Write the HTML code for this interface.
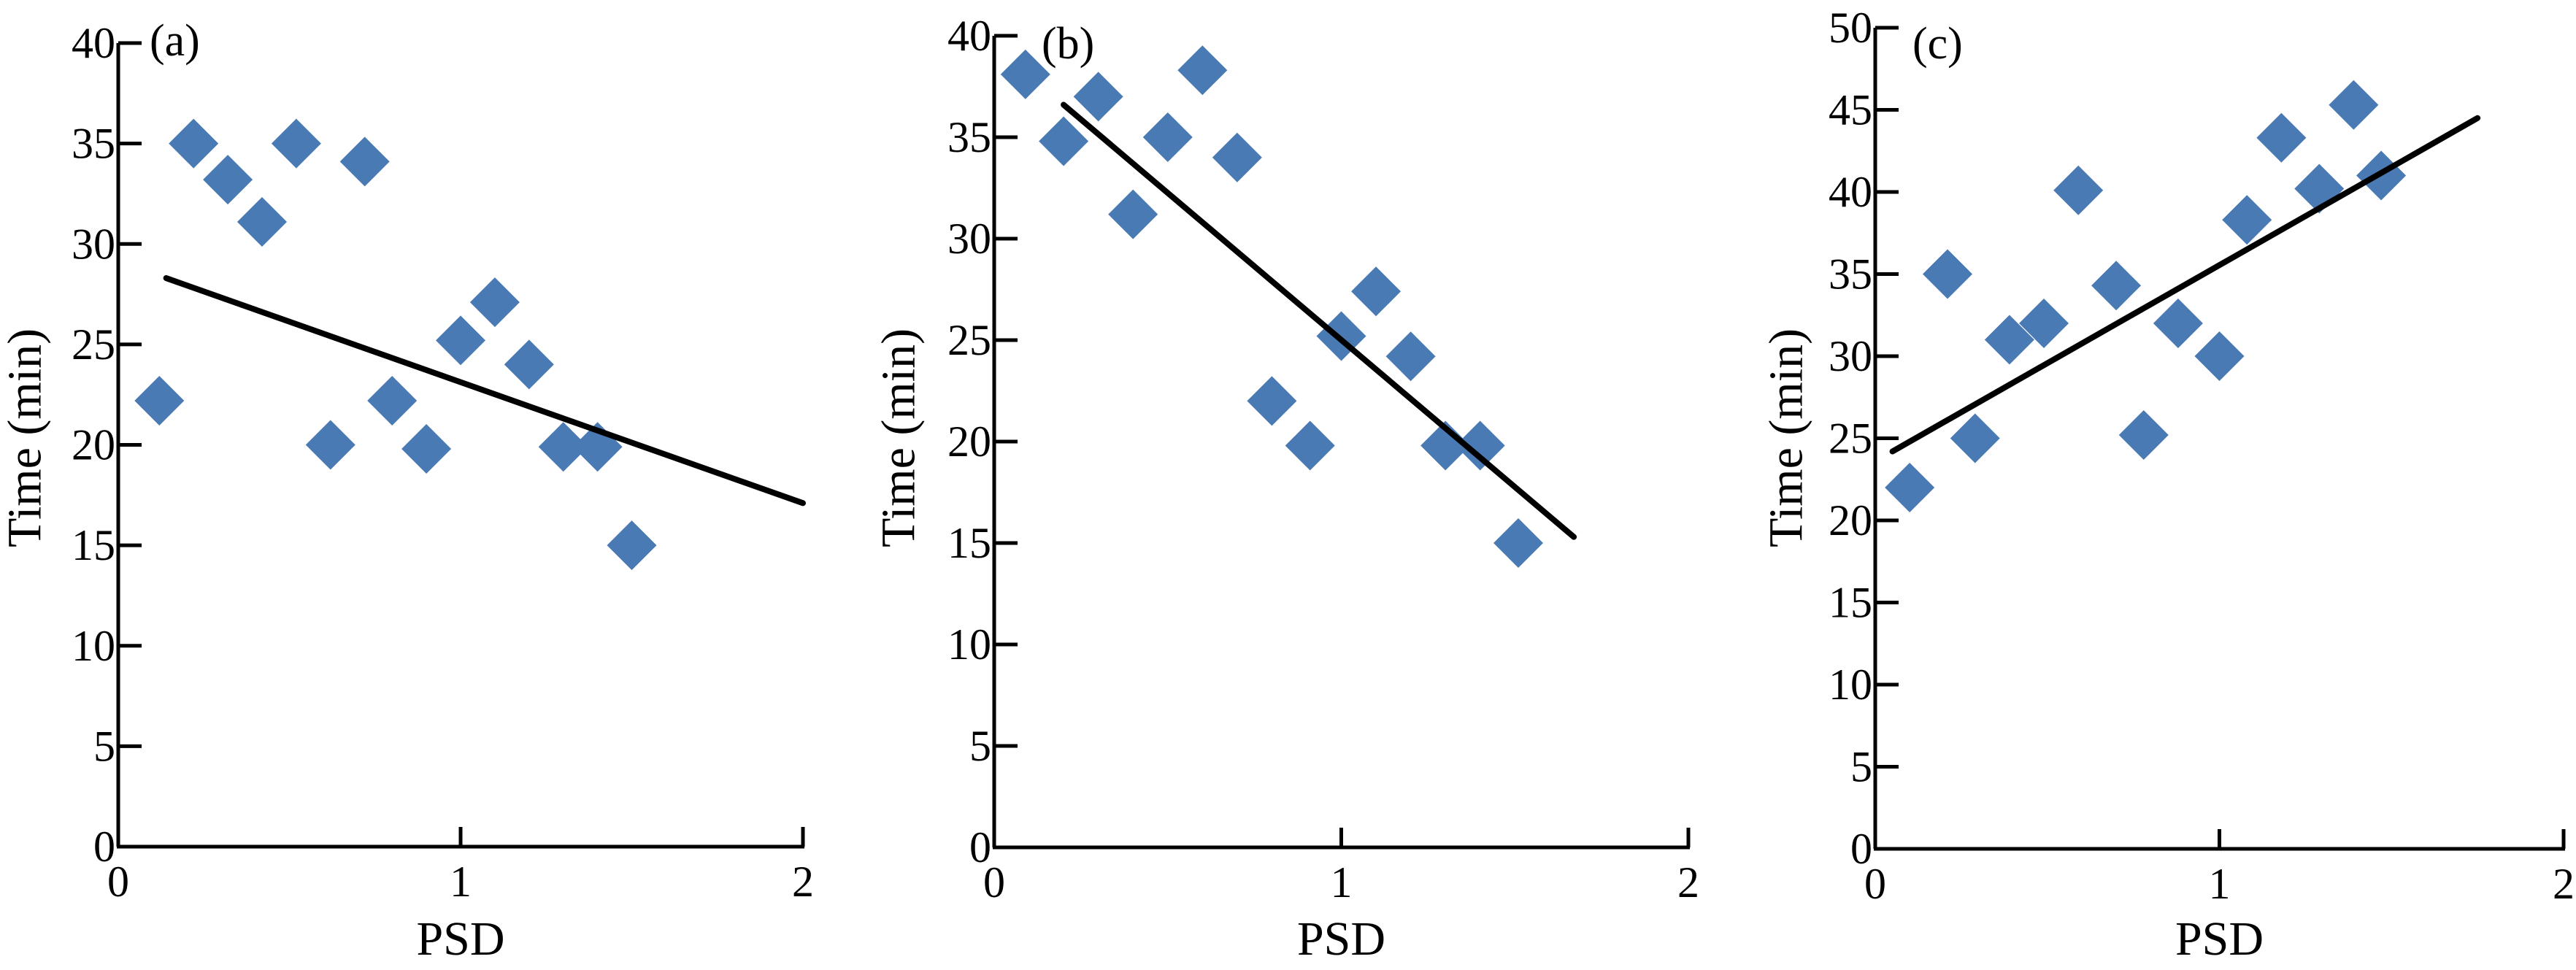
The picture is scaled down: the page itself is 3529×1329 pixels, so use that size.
<!DOCTYPE html>
<html><head><meta charset="utf-8"><style>
html,body{margin:0;padding:0;background:#fff;}
svg{display:block;}
text{font-family:"Liberation Serif","Times New Roman",serif;fill:#000;}
</style></head><body>
<svg id="fig" width="3529" height="1329" viewBox="0 0 3529 1329" xmlns="http://www.w3.org/2000/svg"></svg>
<script>
// Panel (a)
const psdA = [0.12,0.22,0.32,0.42,0.52,0.62,0.72,0.80,0.90,1.00,1.10,1.20,1.30,1.40,1.50];
const timeA = [22.2,35.0,33.2,31.1,35.0,20.0,34.1,22.2,19.8,25.2,27.1,24.0,19.9,19.9,15.0];
const fitA = [[0.14,28.3],[2.0,17.1]];
// Panel (b)
const psdB = [0.09,0.20,0.30,0.40,0.50,0.60,0.70,0.80,0.91,1.00,1.10,1.20,1.30,1.40,1.51];
const timeB = [38.1,34.8,37.0,31.2,35.0,38.3,34.0,22.0,19.8,25.2,27.4,24.2,19.8,19.8,15.0];
const fitB = [[0.20,36.6],[1.67,15.3]];
// Panel (c)
const psdC = [0.10,0.21,0.29,0.39,0.49,0.59,0.70,0.78,0.88,1.00,1.08,1.18,1.29,1.39,1.47];
const timeC = [22.0,35.0,25.0,31.0,32.0,40.1,34.3,25.2,32.0,30.0,38.3,43.3,40.2,45.3,41.0];
const fitC = [[0.05,24.2],[1.75,44.5]];
const xTicks = [0,1,2];
const yTicksAB = [0,5,10,15,20,25,30,35,40];
const yTicksC = [0,5,10,15,20,25,30,35,40,45,50];

const NS = "http://www.w3.org/2000/svg";
const svg = document.getElementById('fig');
function mk(tag, attrs, parent){
  const e = document.createElementNS(NS, tag);
  for (const k in attrs) e.setAttribute(k, attrs[k]);
  parent.appendChild(e);
  return e;
}
const panels = [
  {id:'a', xs:psdA, ys:timeA, fit:fitA, yt:yTicksAB, ymax:40, x0:162, x2:1100, y0:1160, ytop:59, lab:'(a)', labX:205, labY:76, titleX:34},
  {id:'b', xs:psdB, ys:timeB, fit:fitB, yt:yTicksAB, ymax:40, x0:1362, x2:2313, y0:1161, ytop:49, lab:'(b)', labX:1427, labY:80, titleX:1231},
  {id:'c', xs:psdC, ys:timeC, fit:fitC, yt:yTicksC, ymax:50, x0:2569, x2:3512, y0:1163, ytop:38, lab:'(c)', labX:2620, labY:80, titleX:2447}
];
panels.forEach(p => {
  const g = mk('g', {}, svg);
  
  
  const sx = v => p.x0 + (p.x2 - p.x0) * v / 2;
  const sy = v => p.y0 - (p.y0 - p.ytop) * v / p.ymax;
  // axes
  const ya = mk('line', {x1:p.x0, y1:p.ytop, x2:p.x0, y2:p.y0, stroke:'#000','stroke-width':5}, g);
  
  
  const xa = mk('line', {x1:p.x0-2, y1:p.y0, x2:p.x2+2, y2:p.y0, stroke:'#000','stroke-width':5}, g);
  
  
  p.yt.forEach(t => {
    const y = sy(t);
    const tk = mk('line', {x1:p.x0, y1:y, x2:p.x0+32, y2:y, stroke:'#000','stroke-width':5}, g);
    
    
    const tl = mk('text', {x:p.x0-4, y:y+20, 'font-size':60, 'text-anchor':'end'}, g);
    tl.textContent = t;
    
    
  });
  xTicks.forEach(t => {
    const x = sx(t);
    if (t > 0) {
      const tk = mk('line', {x1:x, y1:p.y0, x2:x, y2:p.y0-27, stroke:'#000','stroke-width':5}, g);
      
      
    }
    const tl = mk('text', {x:x, y:p.y0+68, 'font-size':60, 'text-anchor':'middle'}, g);
    tl.textContent = t;
    
    
  });
  // points
  p.xs.forEach((v, i) => {
    const cx = sx(v), cy = sy(p.ys[i]), r = 34;
    const d = mk('polygon', {points:`${cx},${cy-r} ${cx+r},${cy} ${cx},${cy+r} ${cx-r},${cy}`, fill:'#4a7ab4'}, g);
    
    
  });
  // fit line
  const fl = mk('line', {x1:sx(p.fit[0][0]), y1:sy(p.fit[0][1]), x2:sx(p.fit[1][0]), y2:sy(p.fit[1][1]), stroke:'#000','stroke-width':8,'stroke-linecap':'round'}, g);
  
  
  // labels
  const pl = mk('text', {x:p.labX, y:p.labY, 'font-size':62}, g);
  pl.textContent = p.lab;
  
  
  const xt = mk('text', {x:sx(1), y:1308, 'font-size':66, 'text-anchor':'middle'}, g);
  xt.textContent = 'PSD';
  
  
  const yty = 600;
  const yt = mk('text', {x:p.titleX, y:yty, 'font-size':66, 'text-anchor':'middle', 'dominant-baseline':'central', transform:`rotate(-90 ${p.titleX} ${yty})`}, g);
  yt.textContent = 'Time (min)';
  
  
});
</script>
</body></html>
